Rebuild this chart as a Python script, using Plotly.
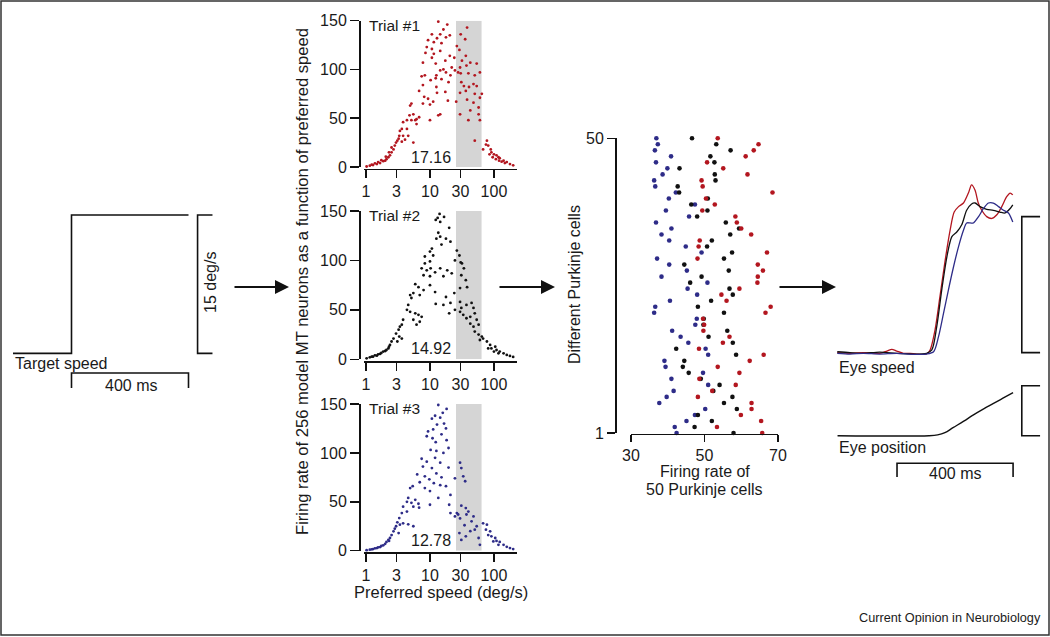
import math
import plotly.graph_objects as go

W, H = 1050, 637
FONT = "Liberation Sans, Arial, Helvetica, sans-serif"
TXT = "#1a1a1a"

# ---------------- data ----------------
# Target speed step (time in ms, speed in deg/s)
target_time = [-200, 0, 0, 400]
target_speed = [0, 0, 15, 15]

# MT population responses on three trials: (log10 preferred speed, firing rate)
trial1 = [
    (1.13,149),(1.47,151),(1.27,146),(1.58,143),(1.21,141),(1.03,136),(1.16,136),(1.31,135),(1.25,133),(1.48,136),
    (1.55,131),(1.11,132),(0.97,130),(1.06,128),(1.18,127),(0.95,123),(1.03,121),(1.42,124),(1.46,120),(0.93,117),
    (1.06,116),(1.16,119),(1.31,114),(1.56,114),(1.38,112),(1.50,109),(1.24,109),(1.03,112),(0.89,107),(1.63,107),
    (1.73,106),(1.09,106),(1.47,102),(1.34,102),(1.57,104),(1.21,100),(1.25,97),(1.16,99),(1.39,99),(1.48,96),
    (1.44,97),(1.60,96),(1.10,94),(1.32,94),(1.70,94),(1.78,97),(0.87,93),(0.92,94),(1.01,89),(1.09,91),
    (1.18,90),(1.49,87),(1.68,85),(1.53,83),(1.61,82),(1.73,83),(0.89,84),(1.10,82),(1.29,87),(0.83,78),
    (1.47,76),(1.56,78),(1.24,77),(1.11,76),(1.70,75),(1.81,75),(0.91,72),(0.97,70),(1.00,64),(1.05,67),
    (0.89,65),(1.28,68),(1.41,67),(1.58,69),(1.68,66),(1.76,61),(1.78,71),(0.69,63),(0.71,65),(0.74,54),
    (0.68,53),(0.79,49),(0.83,51),(0.79,44),(0.77,48),(0.71,48),(0.64,48),(0.58,46),(1.00,48),(1.13,53),
    (1.47,54),(1.63,58),(1.76,54),(1.60,48),(1.78,48),(1.16,54),(0.64,39),(0.56,39),(0.53,37),(0.52,32),
    (0.51,29),(0.47,25),(0.45,22),(0.49,27),(0.66,32),(0.74,25),(0.58,32),(0.56,26),(0.61,28),(0.43,18),
    (0.40,15),(0.375,12),(0.35,10),(0.32,8),(0.30,6.5),(0.27,6),(0.22,4),(0.17,3),(0.11,2),(0.06,1.4),
    (0.01,0.5),(0.36,15),(0.40,20),(0.31,10.6),(0.24,7),(0.19,5),(0.14,3.8),(0.09,2.4),(1.70,27),(1.83,18),
    (1.875,23),(1.91,22),(1.89,27),(1.95,18),(1.96,15),(2.00,13),(2.04,12),(2.07,10),(2.09,9),(2.15,6.5),
    (2.20,5),(2.25,3),(2.30,1.7),(1.93,13),(1.98,10),(2.03,8),(2.08,6.5),(2.12,5.5),(2.17,4),
]
trial2 = [
    (1.15,147),(1.12,143),(1.22,144),(1.16,139),(1.09,141),(1.30,133),(1.13,128),(1.16,124),(1.25,122),(1.32,119),
    (1.10,122),(1.03,112),(1.00,109),(0.92,104),(1.05,105),(1.18,116),(1.42,110),(1.46,105),(1.39,100),(1.50,97),
    (1.53,92),(1.48,98),(0.92,97),(1.00,99),(0.87,92),(0.95,90),(1.01,92),(1.16,92),(1.27,90),(1.08,88),
    (0.90,85),(1.00,84),(1.21,84),(1.34,87),(1.49,85),(1.56,80),(0.77,76),(0.82,73),(1.00,75),(0.90,70),
    (1.08,68),(1.25,63),(1.38,67),(1.47,72),(1.58,73),(0.69,65),(0.74,67),(0.71,62),(0.84,65),(1.09,56),
    (1.21,55),(1.32,57),(1.30,46.5),(1.39,50),(1.47,58),(1.49,52),(1.57,55),(1.65,57),(1.68,52),(0.66,55),
    (0.64,50),(0.69,48),(0.77,46.5),(0.82,45),(0.87,43),(0.74,40),(0.84,38),(0.79,35),(0.58,40),(0.56,35),
    (0.51,30),(0.53,33),(0.47,26),(0.52,23),(0.56,21),(0.49,18),(0.43,21),(0.40,18),(0.375,14.5),(0.35,11),
    (0.32,9.4),(0.27,7.8),(0.22,5.4),(0.17,3.7),(0.11,2.7),(0.06,2),(0.01,1),(0.36,12.8),(0.30,8.4),(0.24,6.4),
    (0.19,5),(0.14,4),(0.09,2.7),(1.47,48),(1.52,45),(1.57,41.5),(1.63,43),(1.70,46.5),(1.73,40),(1.63,36),
    (1.68,33),(1.76,35),(1.70,28),(1.76,25),(1.81,23),(1.78,19.5),(1.83,21),(1.89,18),(1.94,14.5),(1.96,11),
    (2.02,12.8),(2.04,9.4),(2.09,7.8),(2.15,6),(2.20,4.4),(2.25,3.4),(2.30,2.4),(2.00,7.8),(1.91,11),(2.07,6),
]
trial3 = [
    (1.13,149),(1.26,145),(1.20,141),(1.08,138),(1.16,136),(1.03,135),(1.22,130),(1.11,129),(0.97,122),(1.05,124),
    (1.25,125),(0.95,117),(1.04,115),(1.18,119),(1.26,113),(1.09,111),(1.29,105),(1.01,103),(1.10,102),(1.21,100),
    (0.87,94),(0.95,91),(1.08,95),(1.16,90),(0.89,86),(1.03,84.5),(1.29,85),(0.80,78),(1.10,79),(0.92,76),
    (1.18,75),(1.39,74),(1.47,90),(1.49,84.5),(1.52,76),(1.55,71),(0.99,73),(1.06,69),(0.84,70),(1.16,67),
    (0.69,64),(0.73,66),(0.92,64),(1.00,61),(1.25,66),(1.32,57),(1.13,54),(0.66,54),(0.64,50),(0.71,49),
    (0.77,52),(0.82,48),(0.83,44),(0.74,45),(0.58,45),(1.00,47),(1.30,47),(1.32,38.5),(1.42,38.5),(1.49,46),
    (1.56,43.6),(1.57,37),(1.47,33),(1.68,35),(1.65,30),(1.73,25),(1.70,21.5),(1.63,20),(1.54,26),(1.46,18),
    (1.49,11),(1.56,14.7),(1.76,13),(1.78,6),(1.83,28),(1.89,26.6),(1.875,21.5),(1.94,19.8),(1.91,16),(1.96,14.7),
    (2.02,13),(2.04,10),(2.09,9),(2.15,6),(2.20,4),(2.25,2.7),(2.30,1.7),(1.99,9.5),(2.07,6),(0.64,40),
    (0.56,38.5),(0.52,33.4),(0.49,29),(0.47,25),(0.53,26.6),(0.58,28),(0.66,27),(0.74,25),(0.43,19.8),(0.45,22.5),
    (0.40,16),(0.375,13),(0.35,11),(0.32,9),(0.30,7),(0.27,5.5),(0.22,3.7),(0.17,2.7),(0.11,1.7),(0.06,1),
    (0.01,0.5),(0.36,10),(0.24,4.8),(0.19,3.4),(0.14,2.4),(0.09,1.4),(0.51,18),(1.44,37),(1.39,35),(1.60,40),
]
trial_labels = ["Trial #1", "Trial #2", "Trial #3"]
trial_estimates = ["17.16", "14.92", "12.78"]
trial_estimate_y = [10, 11, 10.2]
window_speeds = [25.5, 64]          # gray band, deg/s
mt_xticks = [1, 3, 10, 30, 100]
mt_yticks = [0, 50, 100, 150]

# Purkinje cell firing rates (cells 1..50) for the three trials
pk_cells = list(range(1, 51))
pk_blue = [42.4,41.9,45.1,47.4,50.2,37.7,39.7,41.6,51.0,41.0,49.6,39.4,39.1,51.0,50.3,45.6,43.5,41.2,47.5,47.9,
           36.3,36.6,40.6,48.0,45.4,50.8,38.3,45.2,40.4,37.1,49.2,44.9,40.4,38.3,41.0,36.8,45.8,39.5,47.4,40.3,
           42.2,36.6,36.3,38.6,39.9,36.8,40.9,36.5,37.3,36.9]
pk_black = [57.9,47.3,52.0,48.2,58.8,55.3,57.6,52.4,54.1,49.0,45.7,44.1,44.5,58.6,42.3,57.7,51.1,56.2,49.7,49.8,
            55.3,48.2,51.8,57.7,56.8,46.1,49.2,56.6,44.5,55.3,57.5,50.7,52.0,57.0,59.4,55.8,48.0,50.8,46.4,50.9,
            43.1,42.7,53.0,52.8,43.2,52.7,51.6,57.1,53.2,46.6]
pk_red = [65.7,53.4,65.4,59.9,62.8,62.8,48.2,52.1,58.5,48.6,59.5,53.6,62.3,66.1,48.5,55.0,56.8,49.7,49.9,49.6,
          66.6,68.0,56.0,54.6,59.5,64.4,64.5,65.9,64.5,48.1,67.0,48.4,48.7,62.7,60.0,58.8,58.4,49.4,52.8,50.4,
          68.5,49.5,49.2,61.7,55.1,50.7,61.2,63.4,64.7,53.6]
pk_xticks = [30, 50, 70]
pk_yticks = [1, 50]

# Eye speed (deg/s) traces, time in ms from target motion onset
eye_red_t = [-206,-162,-116,-60,-35,-18,-1,22,45,68,102,114,131,148,166,183,197,212,229,246,257,269,280,292,309,327,344,361,378,390,399]
eye_red_v = [0,-0.07,0,-0.07,0.18,0.37,0.18,-0.07,-0.07,-0.15,-0.15,0.3,2.5,6.2,10.2,13.5,15.5,16.1,16.5,17.6,18.5,17.9,16.5,15.7,15.0,14.8,15.2,16.1,17.2,17.6,17.4]
eye_black_t = [-206,-162,-116,-60,-1,56,102,120,137,154,172,189,206,223,240,257,269,286,309,332,355,372,390,399]
eye_black_v = [0.1,0,-0.07,0.07,-0.07,-0.15,-0.07,0.3,2.9,6.9,10.6,12.8,13.3,14.1,15.7,16.4,16.5,16.1,15.8,15.7,15.5,15.4,15.9,16.3]
eye_blue_t = [-206,-162,-116,-60,-1,56,102,126,143,160,177,195,212,229,240,252,263,281,298,315,332,350,367,384,399]
eye_blue_v = [-0.07,-0.15,-0.07,-0.15,-0.07,-0.18,-0.15,0.1,1.76,4.3,6.9,9.5,11.7,13.5,14.3,14.3,14.3,15.0,15.9,16.5,16.5,16.1,15.7,15.4,14.4]
# Eye position (deg)
eye_pos_t = [-205, 110, 140, 165, 193, 230, 262, 300, 331, 365, 400]
eye_pos = [0, 0, 0.08, 0.3, 0.8, 1.45, 2.05, 2.7, 3.2, 3.75, 4.3]

# scale bars
time_bar_ms = 400
speed_bar = 15
pos_bar = 5

# ---------------- layout helpers ----------------
def px(x):
    return x / W

def py(y):
    return 1 - y / H

RED = "#b3161f"
BLK = "#111111"
BLU = "#2e2c88"

fig = go.Figure()

# target speed
fig.add_trace(go.Scatter(x=target_time, y=target_speed, mode="lines",
                         line=dict(color=BLK, width=1.6), xaxis="x", yaxis="y",
                         showlegend=False, hoverinfo="skip"))

mt_colors = [RED, BLK, BLU]
mt_geom = [(20.7, 167.0, 168.5), (211.0, 359.3, 360.8), (404.0, 550.7, 552.2)]
trials = [trial1, trial2, trial3]
shapes = []
annotations = []
axis_common = dict(showgrid=False, zeroline=False, showline=True, linecolor=BLK, linewidth=1.7,
                   ticks="outside", tickcolor=BLK, tickwidth=1.5, automargin=False,
                   tickfont=dict(family=FONT, size=16, color=TXT))
layout_axes = {}
for k in range(3):
    a = k + 2
    pts = trials[k]
    fig.add_trace(go.Scatter(x=[10 ** p[0] for p in pts], y=[p[1] for p in pts], mode="markers",
                             marker=dict(size=2.8, color=mt_colors[k], line=dict(width=0)),
                             xaxis=f"x{a}", yaxis=f"y{a}", cliponaxis=False,
                             showlegend=False, hoverinfo="skip"))
    top, bot, xline = mt_geom[k]
    layout_axes[f"xaxis{a}"] = dict(axis_common, type="log", domain=[px(364), px(517)],
                                    range=[-0.031, 2.36], anchor="free", position=py(xline),
                                    tickvals=mt_xticks, ticktext=[str(v) for v in mt_xticks], ticklen=8)
    layout_axes[f"yaxis{a}"] = dict(axis_common, domain=[py(bot), py(top)], range=[0, 150],
                                    anchor="free", position=px(359), tickvals=mt_yticks, ticklen=9)
    shapes.append(dict(type="rect", xref=f"x{a}", yref=f"y{a}",
                       x0=window_speeds[0], x1=window_speeds[1],
                       y0=0, y1=150, fillcolor="#d5d5d5", line=dict(width=0), layer="below"))
    annotations.append(dict(xref=f"x{a}", yref=f"y{a}", x=0.02, y=145, text=trial_labels[k],
                            showarrow=False, xanchor="left", yanchor="middle",
                            font=dict(family=FONT, size=15.5, color=TXT)))
    annotations.append(dict(xref=f"x{a}", yref=f"y{a}", x=1.02, y=trial_estimate_y[k],
                            text=trial_estimates[k], showarrow=False, xanchor="center",
                            yanchor="middle", bgcolor="white",
                            font=dict(family=FONT, size=16, color=TXT)))

# Purkinje cells
for vals, col in [(pk_blue, BLU), (pk_black, BLK), (pk_red, RED)]:
    fig.add_trace(go.Scatter(x=vals, y=pk_cells, mode="markers",
                             marker=dict(size=4.6, color=col, line=dict(width=0)),
                             xaxis="x5", yaxis="y5", cliponaxis=False,
                             showlegend=False, hoverinfo="skip"))
layout_axes["xaxis5"] = dict(axis_common, domain=[px(631), px(778)], range=[30, 70], anchor="free",
                             position=py(433.5), tickvals=pk_xticks, ticklen=7)
layout_axes["yaxis5"] = dict(axis_common, domain=[py(433), py(138.3)], range=[1, 50], anchor="free",
                             position=px(615), tickvals=pk_yticks, ticklen=8)

# eye speed
for t, v, col in [(eye_red_t, eye_red_v, RED), (eye_black_t, eye_black_v, BLK), (eye_blue_t, eye_blue_v, BLU)]:
    fig.add_trace(go.Scatter(x=t, y=v, mode="lines", line=dict(color=col, width=1.3, shape="spline", smoothing=0.8),
                             xaxis="x6", yaxis="y6", showlegend=False, hoverinfo="skip"))
fig.add_trace(go.Scatter(x=eye_pos_t, y=eye_pos, mode="lines", line=dict(color=BLK, width=1.4, shape="spline"),
                         xaxis="x7", yaxis="y7", showlegend=False, hoverinfo="skip"))

hidden = dict(visible=False, showgrid=False, zeroline=False, automargin=False)
layout_axes["xaxis"] = dict(hidden, domain=[px(13), px(220)], range=[-200, 507.7], anchor="y")
layout_axes["yaxis"] = dict(hidden, domain=[py(395), py(200)], range=[-4.52, 16.63], anchor="x")
layout_axes["xaxis6"] = dict(hidden, domain=[px(830), px(1045)], range=[-231, 510], anchor="y6")
layout_axes["yaxis6"] = dict(hidden, domain=[py(365), py(170)], range=[-1.36, 20.14], anchor="x6")
layout_axes["xaxis7"] = dict(hidden, domain=[px(830), px(1045)], range=[-231, 510], anchor="y7")
layout_axes["yaxis7"] = dict(hidden, domain=[py(480), py(380)], range=[-4.43, 5.57], anchor="x7")

bar_line = dict(color=BLK, width=1.6)
# target panel scale bars
shapes.append(dict(type="path", xref="x", yref="y", line=bar_line,
                   path=f"M 0,-3.76 L 0,-2.14 L {time_bar_ms},-2.14 L {time_bar_ms},-3.76"))
shapes.append(dict(type="path", xref="x", yref="y", line=bar_line,
                   path=f"M 482,{speed_bar} L 431,{speed_bar} L 431,0 L 482,0"))
# eye panel scale bars
shapes.append(dict(type="path", xref="x6", yref="y6", line=bar_line,
                   path=f"M 493,{speed_bar} L 430,{speed_bar} L 430,0 L 493,0"))
shapes.append(dict(type="path", xref="x7", yref="y7", line=bar_line,
                   path=f"M 493,{pos_bar} L 430,{pos_bar} L 430,0 L 493,0"))
shapes.append(dict(type="path", xref="x7", yref="y7", line=bar_line,
                   path=f"M 0,-4.13 L 0,-2.76 L {time_bar_ms},-2.76 L {time_bar_ms},-4.13"))
# frame
shapes.append(dict(type="rect", xref="paper", yref="paper", x0=px(1), x1=px(1049), y0=py(635), y1=py(1),
                   line=dict(color="#333333", width=1.5)))

def txt(x, y, s, size=16, xanchor="center", angle=0):
    annotations.append(dict(xref="paper", yref="paper", x=px(x), y=py(y), text=s, showarrow=False,
                            xanchor=xanchor, yanchor="middle", textangle=angle,
                            font=dict(family=FONT, size=size, color=TXT)))

txt(13, 363, "Target speed", xanchor="left")
txt(131, 385, "400 ms")
txt(210, 283, "15 deg/s", angle=-90)
txt(302, 282, "Firing rate of 256 model MT neurons as a function of preferred speed", size=16.6, angle=-90)
txt(441, 592, "Preferred speed (deg/s)", size=16.5)
txt(575, 285, "Different Purkinje cells", angle=-90)
txt(704.5, 471, "Firing rate of")
txt(704.5, 489, "50 Purkinje cells")
txt(837, 367, "Eye speed", xanchor="left")
txt(837, 447, "Eye position", xanchor="left")
txt(955, 473, "400 ms")
txt(1043, 618, "Current Opinion in Neurobiology", size=12.7, xanchor="right")

for tail, head in [(233, 289), (498, 555), (778, 836)]:
    annotations.append(dict(xref="paper", yref="paper", x=px(head), y=py(287), ax=-(head - tail), ay=0,
                            axref="pixel", ayref="pixel", text="", showarrow=True, arrowhead=2,
                            arrowsize=1.4, arrowwidth=2, arrowcolor=BLK))

fig.update_layout(width=W, height=H, margin=dict(l=0, r=0, t=0, b=0, pad=0, autoexpand=False),
                  paper_bgcolor="white", plot_bgcolor="white",
                  shapes=shapes, annotations=annotations, showlegend=False,
                  font=dict(family=FONT, size=16, color=TXT), **layout_axes)

fig.write_html("out.html", config={"displayModeBar": False, "staticPlot": True},
               post_script="document.body.style.margin='0';document.body.style.overflow='hidden';")
